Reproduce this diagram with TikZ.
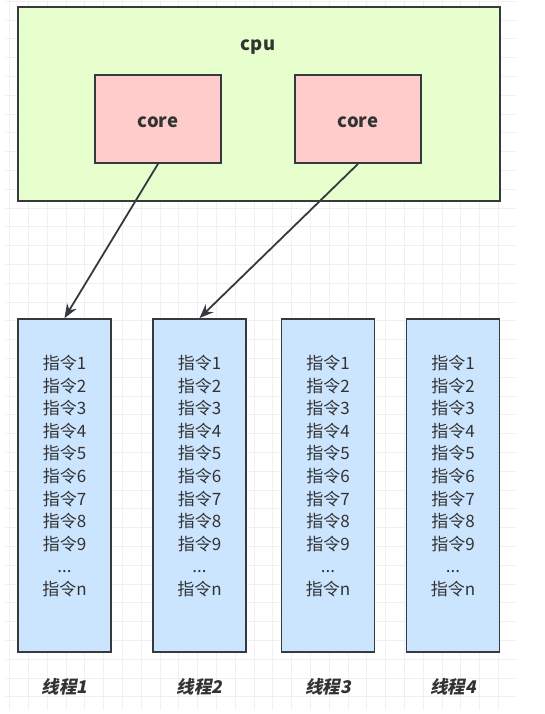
\documentclass[tikz,border=0pt]{standalone}
\usepackage{fontspec}
\setmainfont{Noto Sans CJK SC}
\usetikzlibrary{arrows.meta, positioning}

\definecolor{cpugreen}{HTML}{E6FFCC}
\definecolor{corered}{HTML}{FFCCCC}
\definecolor{threadblue}{HTML}{CCE5FF}
\definecolor{edgegray}{HTML}{36393D}
\definecolor{textgray}{HTML}{333333}

\begin{document}
\begin{tikzpicture}[x=1pt, y=-1pt,
    box/.style={rectangle, draw=edgegray, line width=1.8pt, inner sep=0pt},
    cpubox/.style={box, fill=cpugreen, minimum width=482pt, minimum height=194pt},
    corebox/.style={box, fill=corered, minimum width=126pt, minimum height=88pt},
    title/.style={text=textgray, font=\fontsize{18.5}{20}\selectfont\bfseries},
    threadbox/.style={box, fill=threadblue, minimum width=93pt, minimum height=333pt},
    instr/.style={align=center, inner sep=0pt, text=textgray,
                  font=\fontsize{17}{22.6}\selectfont},
    tlabel/.style={inner sep=0pt, text=textgray,
                   font=\fontsize{17.5}{20}\selectfont\bfseries\addfontfeatures{FakeSlant=0.2}},
    arr/.style={-{Stealth[length=14pt, width=11pt]}, line width=1.8pt, draw=edgegray},
    gridline/.style={draw=gray!12, line width=0.7pt}
  ]

    \useasboundingbox (0,0) rectangle (544,714);

    % Background grid
    \foreach \gx in {0,...,26}
      \draw[gridline] (9.5+18.8*\gx, 0) -- (9.5+18.8*\gx, 710);
    \foreach \gy in {0,...,37}
      \draw[gridline] (5, 1.2+18.8*\gy) -- (516, 1.2+18.8*\gy);

    % CPU
    \node[cpubox] (cpu) at (259,104) {};
    \node[title] (cpulabel) at (258,47) {cpu};

    % Cores
    \node[corebox] (core1) at (158,119) {};
    \node[corebox] (core2) at (358,119) {};
    \node[title] (core1label) at ([yshift=-3pt]core1.center) {core};
    \node[title] (core2label) at ([yshift=-3pt]core2.center) {core};

    % Threads
    \node[threadbox] (t1) at (64.5,485.5) {};
    \node[threadbox] (t2) at (199.5,485.5) {};
    \node[threadbox] (t3) at (328,485.5) {};
    \node[threadbox] (t4) at (453,485.5) {};

    % Instructions
    \foreach \t in {t1,t2,t3,t4}
      \node[instr] (\t-list) at ([yshift=9.5pt]\t.center)
        {指令1\\指令2\\指令3\\指令4\\指令5\\指令6\\指令7\\指令8\\指令9\\...\\指令n};

    % Thread labels
    \node[tlabel, below=25pt of t1] (l1) {线程1};
    \node[tlabel, below=25pt of t2] (l2) {线程2};
    \node[tlabel, below=25pt of t3] (l3) {线程3};
    \node[tlabel, below=25pt of t4] (l4) {线程4};

    % Arrows
    \draw[arr] (core1.south) -- (t1.north);
    \draw[arr] (core2.south) -- (t2.north);

\end{tikzpicture}
\end{document}
